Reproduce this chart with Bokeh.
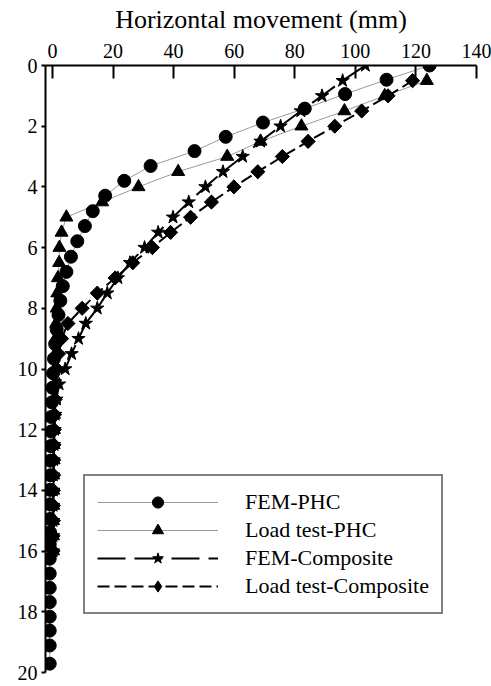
import numpy as np
from bokeh.plotting import figure
from bokeh.models import Range1d, FixedTicker, Legend, LegendItem
from bokeh.embed import file_html
from bokeh.resources import INLINE

# ---- data ----
fem_phc_depth = [0.0, 0.47, 0.94, 1.42, 1.88, 2.35, 2.82, 3.31, 3.8, 4.29,
                 4.8, 5.29, 5.79, 6.3, 6.8, 7.27, 7.75, 8.22, 8.7, 9.18,
                 9.66, 10.14, 10.62, 11.1, 11.58, 12.06, 12.54, 13.02, 13.5, 13.98,
                 14.46, 14.94, 15.38, 15.78, 16.25, 16.74, 17.21, 17.68, 18.16, 18.62,
                 19.11, 19.71]
fem_phc_x = [124.5, 110.3, 96.6, 83.3, 69.5, 57.2, 46.9, 32.4, 23.7, 17.4,
             13.3, 10.7, 8.2, 6.1, 4.6, 3.4, 2.6, 2.0, 1.4, 0.9,
             0.5, 0.2, 0.0, -0.2, -0.4, -0.5, -0.6, -0.7, -0.7, -0.8,
             -0.8, -0.8, -0.8, -0.9, -0.9, -0.9, -0.9, -0.9, -0.9, -0.9,
             -0.9, -0.9]

lt_phc_depth = [0.5, 1.0, 1.5, 2.0, 2.5, 3.0, 3.5, 4.0, 4.5, 5.0,
                5.5, 6.0, 6.5, 7.0, 7.5, 8.0, 8.5, 9.0, 9.5, 10.0,
                10.5, 11.0, 11.5, 12.0, 12.5, 13.0, 13.5, 14.0, 14.5, 15.0,
                15.5, 16.0]
lt_phc_x = [123.6, 109.7, 96.4, 82.2, 68.7, 57.7, 41.5, 28.4, 16.4, 4.6,
            3.0, 2.3, 2.2, 1.8, 1.6, 1.4, 1.2, 1.0, 0.9, 0.8,
            0.7, 0.6, 0.5, 0.5, 0.4, 0.4, 0.3, 0.3, 0.3, 0.2,
            0.2, 0.2]

fem_comp_depth = [0.0, 0.5, 1.0, 1.5, 2.0, 2.5, 3.0, 3.5, 4.0, 4.5,
                  5.0, 5.5, 6.0, 6.5, 7.0, 7.5, 8.0, 8.5, 9.0, 9.5,
                  10.0, 10.5, 11.0, 11.5, 12.0, 12.5, 13.0, 13.5, 14.0, 14.5,
                  15.0, 15.5, 16.0]
fem_comp_x = [103.3, 95.8, 89.0, 82.0, 75.3, 68.7, 62.8, 56.3, 50.5, 45.0,
              39.8, 34.9, 30.4, 25.6, 21.6, 18.1, 14.8, 11.0, 8.6, 6.3,
              4.2, 2.2, 1.3, 0.9, 0.7, 0.5, 0.4, 0.3, 0.3, 0.2,
              0.2, 0.2, 0.2]

lt_comp_depth = [0.5, 1.0, 1.5, 2.0, 2.5, 3.0, 3.5, 4.0, 4.5, 5.0,
                 5.5, 6.0, 6.5, 7.0, 7.5, 8.0, 8.5, 9.0, 9.5, 10.0,
                 10.5, 11.0, 11.5, 12.0, 12.5, 13.0, 13.5, 14.0, 14.5, 15.0,
                 15.5, 16.0]
lt_comp_x = [118.9, 110.8, 102.1, 93.2, 84.4, 75.9, 67.8, 59.9, 52.5, 45.6,
             39.0, 33.0, 26.5, 20.7, 14.8, 9.8, 5.1, 3.0, 2.0, 1.5,
             1.1, 0.9, 0.7, 0.6, 0.5, 0.4, 0.4, 0.3, 0.3, 0.3,
             0.2, 0.2]

series_names = ["FEM-PHC", "Load test-PHC", "FEM-Composite", "Load test-Composite"]
x_ticks = [0, 20, 40, 60, 80, 100, 120, 140]
y_ticks = [0, 2, 4, 6, 8, 10, 12, 14, 16, 18, 20]
x_title = "Horizontal movement (mm)"

FONT = "Liberation Serif"

p = figure(width=491, height=686, output_backend="svg", toolbar_location=None,
           x_range=Range1d(-2.3, 140), y_range=Range1d(20, 0),
           x_axis_location="above",
           min_border_left=45, min_border_right=15, min_border_top=65, min_border_bottom=14)
p.grid.visible = False
p.outline_line_color = None
p.background_fill_color = "white"

# lines
l1 = p.line(fem_phc_x, fem_phc_depth, line_color="#9a9a9a", line_width=1)
l2 = p.line(lt_phc_x, lt_phc_depth, line_color="#9a9a9a", line_width=1)
l3 = p.line(fem_comp_x, fem_comp_depth, line_color="black", line_width=2, line_dash="28 9")
l4 = p.line(lt_comp_x, lt_comp_depth, line_color="black", line_width=2, line_dash="12 5")

# markers
m1 = p.scatter(fem_phc_x, fem_phc_depth, marker="circle", size=13,
               fill_color="black", line_color="black")
m2 = p.scatter(lt_phc_x, lt_phc_depth, marker="triangle", size=13,
               fill_color="black", line_color="black")
m3 = p.scatter(fem_comp_x, fem_comp_depth, marker="star", size=14,
               fill_color="black", line_color="black")
# diamond glyph (sits inside the rotated squares; used for the legend sample)
m4d = p.scatter(lt_comp_x, lt_comp_depth, marker="diamond", size=13,
                fill_color="black", line_color="black")
m4 = p.scatter(lt_comp_x, lt_comp_depth, marker="square", size=10, angle=np.pi / 4,
               fill_color="black", line_color="black")

# axes
xa = p.xaxis[0]
xa.ticker = FixedTicker(ticks=x_ticks)
xa.axis_label = x_title
xa.axis_label_text_font = FONT
xa.axis_label_text_font_size = "26px"
xa.axis_label_text_font_style = "normal"
xa.axis_label_text_color = "black"
xa.axis_label_standoff = 7
xa.major_label_text_font = FONT
xa.major_label_text_font_size = "20px"
xa.major_label_text_color = "black"
xa.major_label_standoff = 8
xa.major_tick_in = 13
xa.major_tick_out = 0
xa.minor_tick_line_color = None
xa.axis_line_width = 2
xa.major_tick_line_width = 2
xa.axis_line_color = "black"
xa.major_tick_line_color = "black"

ya = p.yaxis[0]
ya.ticker = FixedTicker(ticks=y_ticks)
ya.major_label_text_font = FONT
ya.major_label_text_font_size = "20px"
ya.major_label_text_color = "black"
ya.major_label_standoff = 4
ya.major_tick_in = 0
ya.major_tick_out = 4
ya.minor_tick_line_color = None
ya.axis_line_width = 2
ya.major_tick_line_width = 2
ya.axis_line_color = "black"
ya.major_tick_line_color = "black"

legend = Legend(items=[
    LegendItem(label=series_names[0], renderers=[l1, m1]),
    LegendItem(label=series_names[1], renderers=[l2, m2]),
    LegendItem(label=series_names[2], renderers=[l3, m3]),
    LegendItem(label=series_names[3], renderers=[l4, m4d]),
], location=(38, 58), glyph_width=121, glyph_height=28, label_height=28,
    spacing=0, padding=12,
    label_standoff=27, label_text_font=FONT, label_text_font_size="22px",
    label_text_color="black",
    border_line_color="black", border_line_width=2, background_fill_color="white",
    background_fill_alpha=1.0, margin=0)
p.add_layout(legend)

open("out.html", "w").write(file_html(p, INLINE))
